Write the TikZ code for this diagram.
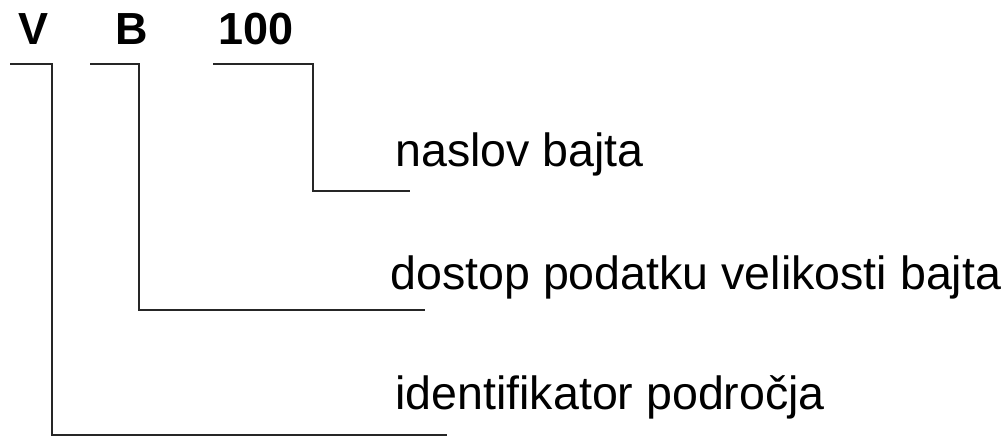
\documentclass[tikz,border=0pt]{standalone}
\usepackage{fontspec}
\setmainfont{Liberation Sans}
\usetikzlibrary{positioning}

\begin{document}
\begin{tikzpicture}[
    x=0.02cm, y=-0.02cm,
    field/.style={inner sep=0pt, anchor=base, font=\fontsize{25.6}{30}\selectfont\bfseries},
    desc/.style={inner sep=0pt, anchor=base west, font=\fontsize{26.5}{30}\selectfont},
    lead/.style={line width=1.3pt, color=black!85}
]
    \useasboundingbox (0,0) rectangle (1007,438);
    % address fields
    \node[field] (area) at (33,45) {V};
    \node[field] (size) at (132,45) {B};
    \node[field] (addr) at (256,45) {100};
    % descriptions
    \node[desc] (addrtxt) at (395,167) {naslov bajta};
    \node[desc] (sizetxt) at (390,290) {dostop podatku velikosti bajta};
    \node[desc] (areatxt) at (395,410) {identifikator področja};
    % leader lines
    \coordinate (a0) at (213,64); \coordinate (a1) at (313,64); \coordinate (a2) at (410,191);
    \coordinate (s0) at (90,64);  \coordinate (s1) at (139,64); \coordinate (s2) at (425,310);
    \coordinate (v0) at (10,64);  \coordinate (v1) at (52,64);  \coordinate (v2) at (447,435);
    \draw[lead] (a0) -- (a1) |- (a2);
    \draw[lead] (s0) -- (s1) |- (s2);
    \draw[lead] (v0) -- (v1) |- (v2);
\end{tikzpicture}
\end{document}
